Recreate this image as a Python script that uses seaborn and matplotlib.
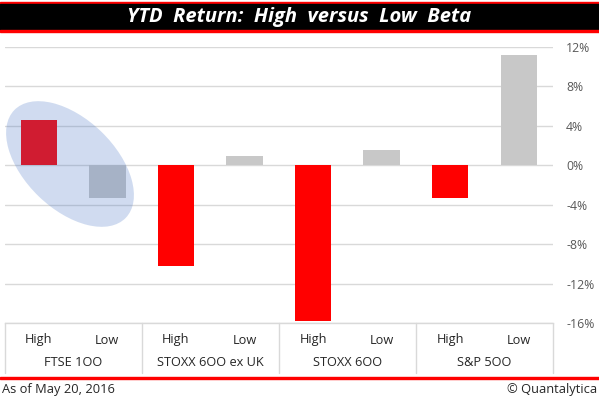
import matplotlib
matplotlib.use("Agg")
import matplotlib.pyplot as plt
import numpy as np
import pandas as pd
import seaborn as sns
from matplotlib.patches import Ellipse, Rectangle
from matplotlib.transforms import blended_transform_factory

# values (YTD return, %)
indices = ["FTSE 1OO", "STOXX 6OO ex UK", "STOXX 6OO", "S&P 5OO"]
high_beta = [4.6, -10.2, -15.8, -3.3]
low_beta = [-3.3, 0.9, 1.6, 11.2]
beta_levels = ["High", "Low"]
y_ticks = [-16, -12, -8, -4, 0, 4, 8, 12]
y_tick_labels = ["-16%", "-12%", "-8%", "-4%", "0%", "4%", "8%", "12%"]

W, H = 599, 399
FONTS = ["Open Sans", "DejaVu Sans"]


def build_frame() -> pd.DataFrame:
    """
    Long table for seaborn
    """
    rows = []
    for i, name in enumerate(indices):
        rows.append({"index": name, "beta": "High", "ret": high_beta[i]})
        rows.append({"index": name, "beta": "Low", "ret": low_beta[i]})
    return pd.DataFrame(rows)


def py(p):
    # pixel row from top -> figure fraction
    return (H - p) / H


def draw_frame(fig) -> None:
    """
    Title bar, red rules and footer
    """
    red = "#FF0000"
    fig.patches.append(Rectangle((0, py(3.7)), 1, 2.0 / H, transform=fig.transFigure,
                                 color=red, zorder=0))
    fig.patches.append(Rectangle((0, py(29.7)), 1, 26.0 / H, transform=fig.transFigure,
                                 color="black", zorder=0))
    fig.patches.append(Rectangle((0, py(31.9)), 1, 2.2 / H, transform=fig.transFigure,
                                 color=red, zorder=0))
    fig.text(0.5, py(16.7), "YTD  Return:  High  versus  Low  Beta", color="white",
             fontsize=14.5, fontweight="bold", style="italic", ha="center", va="center",
             family=FONTS)

    fig.patches.append(Rectangle((0, py(379)), 1, 2.0 / H, transform=fig.transFigure,
                                 color=red, zorder=0))
    fig.text(2 / W, py(389), "As of May 20, 2016", fontsize=9.3, color="#262626",
             ha="left", va="center", family=FONTS)
    fig.text(597 / W, py(389), "\u00a9 Quantalytica", fontsize=9.3, color="#262626",
             ha="right", va="center", family=FONTS)


def draw_chart(df: pd.DataFrame):
    fig = plt.figure(figsize=(W / 100, H / 100), dpi=100)
    ax = fig.add_axes([4.5 / W, py(323), (553 - 4.5) / W, (323 - 47) / H])

    sns.barplot(data=df, x="index", y="ret", hue="beta", order=indices,
                hue_order=beta_levels, palette={"High": "#FF0000", "Low": "#C8C8C8"},
                saturation=1, width=1.0, gap=0.47, linewidth=0, legend=False,
                ax=ax, zorder=2)

    grid = "#D9D9D9"
    ax.set_xlim(-0.5, len(indices) - 0.5)
    ax.set_ylim(-16, 12)
    ax.set_yticks(y_ticks)
    ax.set_yticklabels(y_tick_labels)
    ax.yaxis.tick_right()
    ax.tick_params(axis="y", length=0, pad=9.5, labelsize=8.8, labelcolor="#595959")
    for lab in ax.get_yticklabels():
        lab.set_family(FONTS)
    ax.set_xticks([])
    ax.set_xlabel("")
    ax.set_ylabel("")
    ax.grid(axis="y", color=grid, linewidth=1, zorder=0)
    ax.set_axisbelow(True)
    for side in ["left", "right", "top"]:
        ax.spines[side].set_visible(False)
    ax.spines["bottom"].set_color(grid)
    ax.spines["bottom"].set_linewidth(1)

    # category table under the plot
    trans = blended_transform_factory(ax.transData, ax.transAxes)
    axh = 323 - 47
    for b in np.arange(-0.5, len(indices), 1.0):
        ax.plot([b, b], [0, -(373 - 323) / axh], color=grid, linewidth=1,
                transform=trans, clip_on=False)
    for i, name in enumerate(indices):
        for off, lvl in zip([-0.25, 0.25], beta_levels):
            ax.text(i + off, -(340 - 323) / axh, lvl, transform=trans, ha="center",
                    va="center", fontsize=9.2, color="#262626", family=FONTS)
        ax.text(i, -(362 - 323) / axh, name, transform=trans, ha="center",
                va="center", fontsize=9.2, color="#262626", family=FONTS)

    # highlight around the FTSE pair
    ell = Ellipse((0.70, (H - 164) / 100), 1.55, 0.90, angle=-44,
                  transform=fig.dpi_scale_trans, facecolor="#4472C4", alpha=0.25,
                  edgecolor="none", zorder=5)
    fig.patches.append(ell)

    draw_frame(fig)
    return fig


def main():
    sns.set_theme(style="white")
    plt.rcParams["font.family"] = FONTS
    df = build_frame()
    fig = draw_chart(df)
    fig.savefig("out.png", dpi=100)


if __name__ == "__main__":
    main()
